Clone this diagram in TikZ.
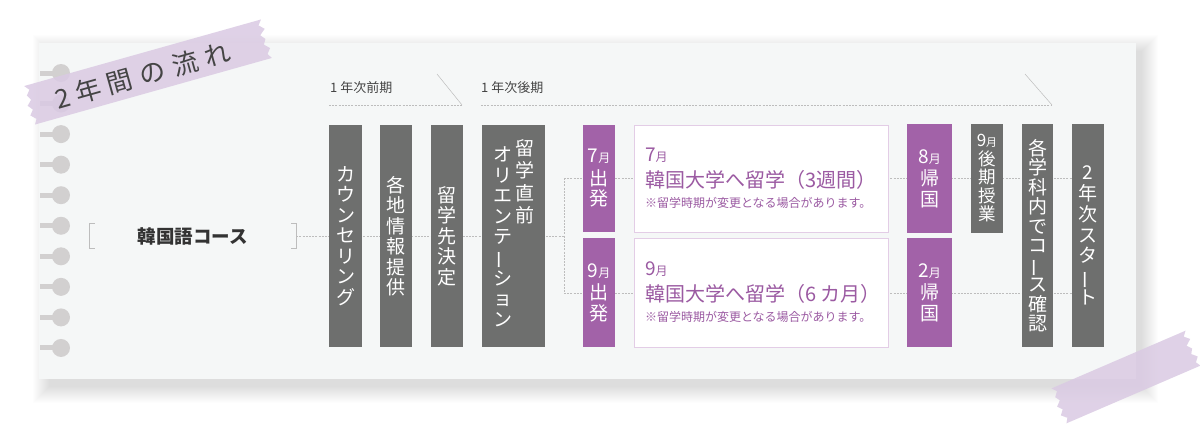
\documentclass[tikz,border=0pt]{standalone}
\usepackage{fontspec}
\usepackage{graphicx}
\setmainfont{Noto Sans CJK JP}
\definecolor{paperfill}{HTML}{F5F7F7}
\definecolor{boxgray}{HTML}{6E6F6E}
\definecolor{boxpurple}{HTML}{A262A8}
\definecolor{textpurple}{HTML}{9B5AA2}
\definecolor{noteline}{HTML}{E3CDE6}
\definecolor{ringgray}{HTML}{D2D0D0}
\definecolor{tapecol}{HTML}{DACAE3}
\definecolor{linegray}{HTML}{BDBDBD}
\definecolor{headgray}{HTML}{444444}
\definecolor{coursegray}{HTML}{333333}
\pgfdeclarelayer{sheet}
\pgfdeclarelayer{links}
\pgfsetlayers{sheet,links,main}
% vertical long vowel mark
\newcommand{\cho}{\rotatebox[origin=c]{90}{ー}}
% month with small 月
\newcommand{\mon}[1]{{\fontsize{19}{19}\selectfont #1}{\fontsize{12}{12}\selectfont 月}}
% masking tape: centre x, centre y, angle, half length, half width
\newcommand{\washi}[5]{%
  \begin{scope}[shift={(#1,#2)},rotate=#3]
    \fill[tapecol,opacity=.85] (-#4,-#5) -- (#4,-#5)
      -- ++(-4,#5/4) -- ++(5,#5/4) -- ++(-6,#5/4) -- ++(4,#5/4)
      -- ++(-3,#5/4) -- ++(5,#5/4) -- ++(-4,#5/4) -- ++(3,#5/4)
      -- (-#4,#5)
      -- ++(3,-#5/4) -- ++(-5,-#5/4) -- ++(4,-#5/4) -- ++(-4,-#5/4)
      -- ++(5,-#5/4) -- ++(-3,-#5/4) -- ++(4,-#5/4) -- ++(-4,-#5/4) -- cycle;
  \end{scope}}
\begin{document}
\begin{tikzpicture}[x=1pt,y=-1pt,
  tate/.style={inner sep=0pt,align=center,text=white,font=\fontsize{19}{20.5}\selectfont},
  graybox/.style={tate,fill=boxgray,minimum width=32},
  purplebox/.style={tate,fill=boxpurple,minimum width=32},
  notebox/.style={draw=noteline,line width=0.8pt,fill=white,minimum height=107,
    text width=232,inner xsep=11pt,inner ysep=0pt,align=left,text=textpurple,
    font=\fontsize{12}{20}\selectfont},
  link/.style={draw=linegray,line width=0.6pt,dash pattern=on 2pt off 1.2pt},
  header/.style={anchor=west,inner sep=0pt,text=headgray,font=\fontsize{13}{13}\selectfont},
  coursebox/.style={minimum width=206,minimum height=24,inner sep=0pt,text=coursegray,
    font=\fontsize{18.5}{19}\selectfont\bfseries},
  ]
\useasboundingbox (0,0) rectangle (1200,426);

\begin{pgfonlayer}{sheet}
  \fill[white] (0,0) rectangle (1200,426);
  % soft shadow of the sheet
  \foreach \k in {0,...,16}
    \fill[black,opacity=0.009] ({49-\k},{51-\k}) rectangle ({1142+\k},{387+\k});
  \fill[paperfill] (39,43) rectangle (1136,379);
  \foreach \i in {0,...,9} {
    \draw[ringgray,line width=5pt] (40,{73+30.55*\i}) -- (60,{73+30.55*\i});
    \fill[ringgray] (61,{73+30.55*\i}) circle (9);
  }
\end{pgfonlayer}

% periods
\node[header] (first) at (330,88) {1 年次前期};
\node[header] (second) at (481,88) {1 年次後期};
\draw[link] (329,105) -- (462,105);
\draw[linegray,line width=0.5pt] (462,105) -- (437,74);
\draw[link] (481,105) -- (1052,105);
\draw[linegray,line width=0.5pt] (1052,105) -- (1025,74);

% course
\node[coursebox] (course) at (193,236) {韓国語コース};
\draw[linegray,line width=0.7pt] ([xshift=5pt]course.north west) -- (course.north west)
  -- (course.south west) -- ([xshift=5pt]course.south west);
\draw[linegray,line width=0.7pt] ([xshift=-5pt]course.north east) -- (course.north east)
  -- (course.south east) -- ([xshift=-5pt]course.south east);

% steps
\node[graybox,minimum width=33,minimum height=222] (couns) at (345.5,236) {カ\\ウ\\ン\\セ\\リ\\ン\\グ};
\node[graybox,minimum height=222] (info) at (396,236) {各\\地\\情\\報\\提\\供};
\node[graybox,minimum height=222] (decide) at (447,236) {留\\学\\先\\決\\定};
\node[graybox,minimum width=63,minimum height=222] (orient) at (513.5,236)
  {\begin{tabular}[t]{@{}c@{}}オ\\リ\\エ\\ン\\テ\\\cho\\シ\\ョ\\ン\end{tabular}\hspace{3pt}%
   \raisebox{6pt}{\begin{tabular}[t]{@{}c@{}}留\\学\\直\\前\end{tabular}}};

\node[purplebox,minimum height=107] (dep7) at (599,178.5) {\mon{7}\\[2pt]出\\発};
\node[purplebox,minimum height=109] (dep9) at (599,292.5) {\mon{9}\\[2pt]出\\発};

\node[notebox] (study7) at (761,178.5)
  {\mon{7}\\[6pt]\mbox{\fontsize{20}{20}\selectfont 韓国大学へ留学（3週間）}\\\mbox{※留学時期が変更となる場合があります。}};
\node[notebox,minimum height=109] (study9) at (761,292.5)
  {\mon{9}\\[6pt]\mbox{\fontsize{20}{20}\selectfont 韓国大学へ留学（6 カ月）}\\\mbox{※留学時期が変更となる場合があります。}};

\node[purplebox,minimum width=45,minimum height=109] (ret8) at (929.5,178.5) {\mon{8}\\[2pt]帰\\国};
\node[purplebox,minimum width=45,minimum height=109] (ret2) at (929.5,292.5) {\mon{2}\\[2pt]帰\\国};

\node[graybox,minimum height=109,font=\fontsize{17.5}{18.5}\selectfont] (autumn) at (987,178.5)
  {{\fontsize{17}{17}\selectfont 9}{\fontsize{11}{11}\selectfont 月}\\後\\期\\授\\業};
\node[graybox,minimum width=31,minimum height=223,font=\fontsize{19}{19.5}\selectfont] (check) at (1037.5,235.5)
  {各\\学\\科\\内\\で\\コ\\\cho\\ス\\確\\認};
\node[graybox,minimum height=223,font=\fontsize{19}{20.8}\selectfont] (start2) at (1088,235.5)
  {2\\年\\次\\ス\\タ\\\cho\\ト};

% connectors behind the boxes
\begin{pgfonlayer}{links}
  \coordinate (fork7) at (564,178);
  \coordinate (fork9) at (564,293);
  \draw[link] (course.east) -- (course.east -| fork7);
  \draw[link] (fork7) -- (fork9);
  \draw[link] (fork7) -- (start2.west |- fork7);
  \draw[link] (fork9) -- (start2.west |- fork9);
\end{pgfonlayer}

% tapes
\washi{148}{72}{15.7}{123}{20}
\node[rotate=15.7,text=headgray,font=\fontsize{26}{26}\selectfont] (title) at (143,75)
  {2\hspace{6pt}年\hspace{7pt}間\hspace{8pt}の\hspace{8pt}流\hspace{8pt}れ};
\washi{1126}{377}{23.3}{73}{19}
\end{tikzpicture}
\end{document}
